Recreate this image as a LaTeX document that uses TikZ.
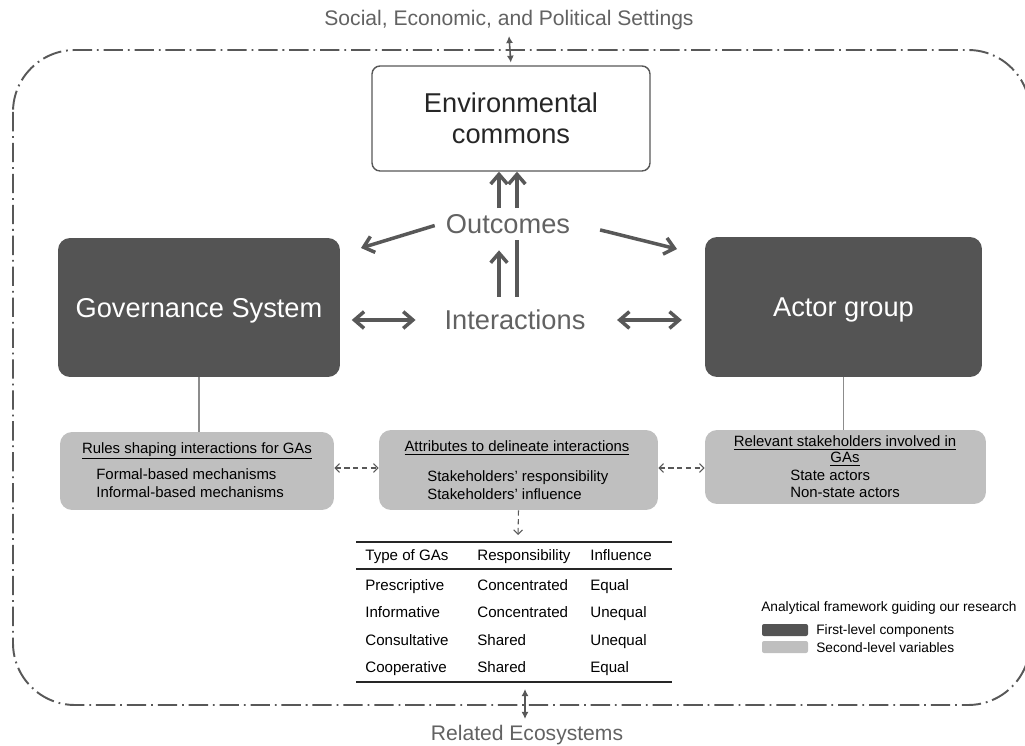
\documentclass[tikz,border=0pt]{standalone}
\usepackage{fontspec}
\setmainfont{Liberation Sans}
\usetikzlibrary{
    arrows.meta,
    calc,
    positioning
}
\definecolor{darkbox}{RGB}{84,84,84}
\definecolor{lightbox}{RGB}{191,191,191}
\definecolor{inkgray}{RGB}{88,88,88}
\definecolor{txtgray}{RGB}{98,98,98}
\newcommand{\fsz}[2]{\fontsize{#1}{#2}\selectfont}
\tikzset{
    frame/.style={draw=inkgray, line width=1.1pt, rounded corners=1.24cm,
        dash pattern=on 11pt off 2.8pt on 1pt off 2.8pt},
    dbox/.style={fill=darkbox, rounded corners=0.24cm, text=white, font=\fsz{15.5}{18}},
    lbox/.style={fill=lightbox, rounded corners=0.24cm},
    ebox/.style={draw=inkgray, line width=0.8pt, fill=white, rounded corners=0.16cm,
        align=center, text=black!85, font=\fsz{15.5}{17.6}},
    big/.style={text=txtgray, font=\fsz{15.5}{18}},
    side/.style={text=txtgray, font=\fsz{12}{14}},
    btxt/.style={font=\fsz{8.5}{9.2}, inner sep=0pt, align=center},
    item/.style={font=\fsz{8.5}{9.6}, inner sep=0pt, anchor=base west},
    tcell/.style={font=\fsz{8.6}{10}, inner sep=0pt, anchor=base west},
    lgd/.style={font=\fsz{7.8}{9}, inner sep=0pt, anchor=west},
    bigarr/.style={draw=inkgray, line width=2pt, -{Straight Barb[length=5.5pt,width=9.5pt]}},
    dblarr/.style={bigarr, {Straight Barb[length=5.5pt,width=9.5pt]}-{Straight Barb[length=5.5pt,width=9.5pt]}},
    bigln/.style={draw=inkgray, line width=2pt},
    tarr/.style={draw=inkgray, line width=0.9pt, {Latex[length=4pt,width=4pt]}-{Latex[length=4pt,width=4pt]}},
    darr/.style={draw=inkgray, line width=0.6pt, dash pattern=on 3pt off 2pt,
        {Straight Barb[length=2.5pt,width=5pt]}-{Straight Barb[length=2.5pt,width=5pt]}},
    thin/.style={draw=black!45, line width=0.6pt},
    trule/.style={draw=black!85}
}

\begin{document}
\begin{tikzpicture}[x=0.02cm, y=-0.02cm]
    \useasboundingbox (0,0) rectangle (1025,746);
    \draw[frame] (13,50) rectangle (1030,705);

    \node[side] (soc) at (509,20) {Social, Economic, and Political Settings};
    \node[side] (eco) at (527,735) {Related Ecosystems};
    \node[ebox, minimum width=5.56cm, minimum height=2.1cm] (env) at (511,118.5) {Environmental\\commons};
    \node[big] (out) at (508,224) {Outcomes};
    \node[big] (int) at (515,320) {Interactions};
    \node[dbox, minimum width=5.64cm, minimum height=2.78cm, text depth=0pt] (gov) at (199,307.5) {Governance System};
    \node[dbox, minimum width=5.54cm, minimum height=2.8cm, text depth=0pt] (act) at (843.5,307) {Actor group};

    \node[lbox, minimum width=5.48cm, minimum height=1.56cm] (rules) at (197,471) {};
    \node[lbox, minimum width=5.58cm, minimum height=1.6cm] (attr) at (518.5,470) {};
    \node[lbox, minimum width=5.62cm, minimum height=1.48cm] (relev) at (845.5,467) {};

    \node[btxt] (rulesttl) at (197,451) {\underline{Rules shaping interactions for GAs}};
    \node[item] (formal) at (96,479.5) {Formal-based mechanisms};
    \node[item] (informal) at (96,497.5) {Informal-based mechanisms};
    \node[btxt] (attrttl) at (517,448) {\underline{Attributes to delineate interactions}};
    \node[item] (resp) at (427,481.5) {Stakeholders' responsibility};
    \node[item] (infl) at (427,499.5) {Stakeholders' influence};
    \node[btxt] (relevttl) at (845,451) {\underline{Relevant stakeholders involved in}\\\underline{GAs}};
    \node[item] (state) at (790,480.5) {State actors};
    \node[item] (nonstate) at (790,497.5) {Non-state actors};

    \coordinate (ol) at (499,0);
    \coordinate (or) at (517,0);
    \coordinate (gtip) at (361,248);
    \coordinate (atip) at (677,249);
    \coordinate (tabtop) at (518,535);
    \coordinate (tabend) at (525,689);

    \draw[tarr, shorten >=1.5pt] (soc.south) -- (env.north);
    \draw[tarr] (eco.north -| tabend) -- (tabend);
    \draw[bigarr] (ol |- out.north) -- (ol |- env.south);
    \draw[bigarr] (or |- out.north) -- (or |- env.south);
    \draw[bigarr, shorten <=4pt, shorten >=6pt] (ol |- int.north) -- (ol |- out.south);
    \draw[bigln, shorten <=4pt] (or |- int.north) -- (or |- out.south);
    \draw[bigarr, shorten <=3pt] (out.west) -- (gtip);
    \draw[bigarr, shorten <=14pt] (out.east) -- (atip);
    \draw[dblarr, shorten <=6.5pt, shorten >=13pt] (gov.east |- int) -- (int.west);
    \draw[dblarr, shorten <=14.5pt, shorten >=13pt] (int.east) -- (act.west |- int);

    \draw[thin] (gov.south) -- (gov.south |- rules.north);
    \draw[thin] (act.south) -- (act.south |- relev.north);
    \draw[darr] (rules.east |- 0,468) -- (attr.west |- 0,468);
    \draw[darr] (attr.east |- 0,468) -- (relev.west |- 0,468);
    \draw[darr, -{Straight Barb[length=2.5pt,width=5pt]}] (attr.south) -- (tabtop);

    \draw[trule, line width=1.1pt] (356,542) -- (672,542);
    \draw[trule, line width=0.8pt] (356,569) -- (672,569);
    \draw[trule, line width=1.1pt] (356,682) -- (672,682);
    \node[tcell] (hty) at (365,560.5) {Type of GAs};
    \node[tcell] (hre) at (477,560.5) {Responsibility};
    \node[tcell] (hin) at (590,560.5) {Influence};
    \foreach \gtype/\resp/\infl [count=\i] in {Prescriptive/Concentrated/Equal,
        Informative/Concentrated/Unequal, Consultative/Shared/Unequal, Cooperative/Shared/Equal}{
        \node[tcell] (ty\i) at (365,562.5+27.5*\i) {\gtype};
        \node[tcell] (re\i) at (477,562.5+27.5*\i) {\resp};
        \node[tcell] (in\i) at (590,562.5+27.5*\i) {\infl};
    }

    \node[lgd] (lgdttl) at (761,608) {Analytical framework guiding our research};
    \fill[darkbox, rounded corners=0.04cm] (762,624) rectangle (808,636);
    \fill[lightbox, rounded corners=0.04cm] (762,641) rectangle (808,653);
    \node[lgd] (lgdfirst) at (816,631) {First-level components};
    \node[lgd] (lgdsecond) at (816,648) {Second-level variables};
\end{tikzpicture}
\end{document}
